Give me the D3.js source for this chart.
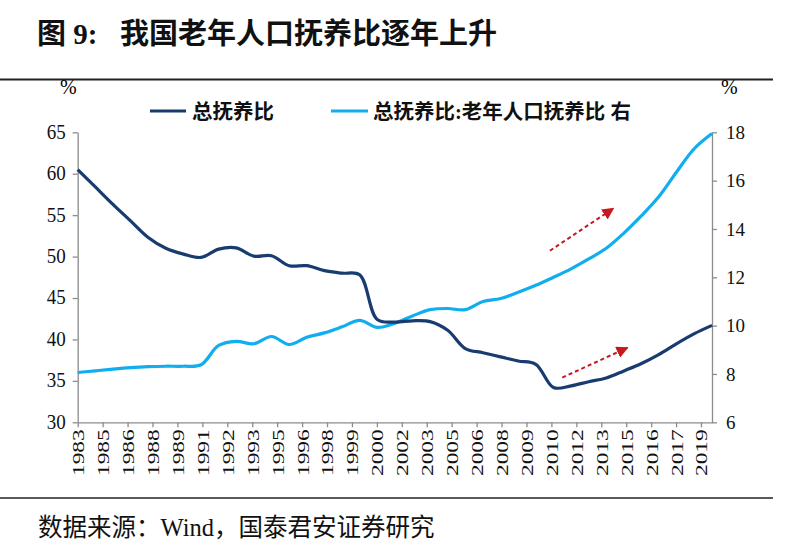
<!DOCTYPE html>
<html>
<head>
<meta charset="utf-8">
<script src="https://cdn.jsdelivr.net/npm/d3@7/dist/d3.min.js"></script>
<style>
  html, body { margin: 0; padding: 0; background: #fff; }
  svg { display: block; }
</style>
</head>
<body>
<svg id="chart" width="800" height="554"></svg>
<script>
// ---------------- DATA ----------------
const years = d3.range(1983, 2020); // 1983 ... 2019
// 总抚养比 (left axis, %)
const totalRatio = [
  60.5, 58.4, 56.3, 54.3, 52.3, 51.0, 50.3, 49.9, 50.9, 51.05,
  50.05, 50.1, 48.9, 48.9, 48.3, 48.0, 47.8, 42.4, 42.1, 42.25,
  42.15, 41.1, 38.9, 38.4, 37.9, 37.4, 37.0, 34.2, 34.4, 34.9,
  35.35, 36.2, 37.1, 38.2, 39.5, 40.7, 41.7
];
// 总抚养比:老年人口抚养比 (right axis, %)
const oldAgeRatio = [
  8.06, 8.13, 8.2, 8.26, 8.3, 8.32, 8.32, 8.38, 9.18, 9.35,
  9.25, 9.55, 9.22, 9.52, 9.7, 9.95, 10.22, 9.93, 10.1, 10.4,
  10.66, 10.71, 10.66, 11.0, 11.12, 11.38, 11.67, 12.0, 12.35, 12.76,
  13.2, 13.83, 14.55, 15.35, 16.37, 17.33, 17.95
];
const xTickLabels = ["1983","1985","1986","1988","1989","1991","1992","1993","1995","1996",
  "1998","1999","2000","2002","2003","2005","2006","2008","2009","2010",
  "2012","2013","2015","2016","2017","2019"];
const leftTicks = [30, 35, 40, 45, 50, 55, 60, 65];
const rightTicks = [6, 8, 10, 12, 14, 16, 18];
const seriesNames = ["总抚养比", "总抚养比:老年人口抚养比 右"];
// trend arrows (start/end in data units): [year, value] ; axis
const arrows = [
  { axis: "right", from: [2009.8, 13.1], to: [2013.4, 14.85] },
  { axis: "left",  from: [2010.5, 35.4], to: [2014.2, 39.0] }
];

// ---------------- LAYOUT ----------------
const plot = { left: 77.7, right: 712, top: 132.3, bottom: 422.3 };
const tickStep = 1.415; // axis label spacing in years
const darkBlue = "#183B70", lightBlue = "#10AEEE", axisGray = "#8C8C8C", arrowRed = "#C8181E";
const serif = "'Liberation Serif','Times New Roman','Noto Sans CJK SC',serif";
const cjk = "'Liberation Serif','Noto Sans CJK SC',sans-serif";

const svg = d3.select("#chart");

const x = d3.scaleLinear().domain([years[0], years[years.length - 1]]).range([plot.left, plot.right]);
const yL = d3.scaleLinear().domain([30, 65]).range([plot.bottom, plot.top]);
const yR = d3.scaleLinear().domain([6, 18]).range([plot.bottom, plot.top]);

// title
const title = svg.append("g").attr("font-family", cjk).attr("font-weight", "bold").attr("font-size", 29).attr("fill", "#111");
title.append("text").attr("x", 37).attr("y", 44).text("图 9:");
title.append("text").attr("x", 120).attr("y", 44).text("我国老年人口抚养比逐年上升");
svg.append("line").attr("x1", 0).attr("x2", 773).attr("y1", 79.5).attr("y2", 79.5)
  .attr("stroke", "#222").attr("stroke-width", 2);

// bottom rule and source
svg.append("line").attr("x1", 0).attr("x2", 773).attr("y1", 498).attr("y2", 498)
  .attr("stroke", "#222").attr("stroke-width", 1.5);
svg.append("text").attr("x", 38).attr("y", 536)
  .attr("font-family", cjk).attr("font-size", 24.5).attr("fill", "#111")
  .text("数据来源：Wind，国泰君安证券研究");

// unit labels
svg.append("text").attr("x", 60).attr("y", 94).attr("font-family", serif).attr("font-size", 20).text("%");
svg.append("text").attr("x", 721).attr("y", 94).attr("font-family", serif).attr("font-size", 20).text("%");

// legend
const legend = svg.append("g").attr("font-family", cjk).attr("font-weight", "bold").attr("font-size", 20.5).attr("fill", "#111");
legend.append("line").attr("x1", 150).attr("x2", 186).attr("y1", 111).attr("y2", 111).attr("stroke", darkBlue).attr("stroke-width", 3);
legend.append("text").attr("x", 192).attr("y", 118.5).text(seriesNames[0]);
legend.append("line").attr("x1", 331).attr("x2", 368).attr("y1", 111).attr("y2", 111).attr("stroke", lightBlue).attr("stroke-width", 3);
legend.append("text").attr("x", 373).attr("y", 118.5).text(seriesNames[1]);

// axes
const axisStyle = g => {
  g.selectAll("path.domain").attr("stroke", axisGray).attr("stroke-width", 1.3);
  g.selectAll(".tick line").attr("stroke", axisGray).attr("stroke-width", 1.3);
  g.selectAll(".tick text").attr("font-family", serif).attr("fill", "#111");
};

svg.append("g").attr("transform", `translate(${plot.left},0)`)
  .call(d3.axisLeft(yL).tickValues(leftTicks).tickSize(5).tickSizeOuter(0).tickPadding(7))
  .call(axisStyle)
  .call(g => g.selectAll(".tick text").attr("font-size", 19).attr("transform", "scale(1,1.12)").attr("dy", "0.28em"));

svg.append("g").attr("transform", `translate(${plot.right},0)`)
  .call(d3.axisRight(yR).tickValues(rightTicks).tickSize(5).tickSizeOuter(0).tickPadding(9))
  .call(axisStyle)
  .call(g => g.selectAll(".tick text").attr("font-size", 19));

const xTickVals = xTickLabels.map((d, i) => years[0] + i * tickStep);
svg.append("g").attr("transform", `translate(0,${plot.bottom})`)
  .call(d3.axisBottom(x).tickValues(xTickVals).tickFormat((d, i) => xTickLabels[i]).tickSize(5).tickSizeOuter(0))
  .call(axisStyle)
  .call(g => g.selectAll(".tick text")
    .attr("font-size", 17)
    .attr("text-anchor", "end")
    .attr("transform", "rotate(-90) scale(1.38,1)")
    .attr("x", -5).attr("y", 0).attr("dy", "0.35em"));

// lines
const lineL = d3.line().x((d, i) => x(years[i])).y(d => yL(d)).curve(d3.curveCatmullRom.alpha(0.5));
const lineR = d3.line().x((d, i) => x(years[i])).y(d => yR(d)).curve(d3.curveCatmullRom.alpha(0.5));

svg.append("path").datum(oldAgeRatio).attr("d", lineR)
  .attr("fill", "none").attr("stroke", lightBlue).attr("stroke-width", 3.2).attr("stroke-linejoin", "round");
svg.append("path").datum(totalRatio).attr("d", lineL)
  .attr("fill", "none").attr("stroke", darkBlue).attr("stroke-width", 3.2).attr("stroke-linejoin", "round");

// arrows
svg.append("defs").append("marker").attr("id", "ah")
  .attr("viewBox", "0 0 10 10").attr("refX", 9).attr("refY", 5)
  .attr("markerWidth", 6).attr("markerHeight", 6).attr("markerUnits", "strokeWidth")
  .attr("orient", "auto")
  .append("path").attr("d", "M0,0 L10,5 L0,10 Z").attr("fill", arrowRed);

arrows.forEach(a => {
  const ys = a.axis === "left" ? yL : yR;
  svg.append("line")
    .attr("x1", x(a.from[0])).attr("y1", ys(a.from[1]))
    .attr("x2", x(a.to[0])).attr("y2", ys(a.to[1]))
    .attr("stroke", arrowRed).attr("stroke-width", 2).attr("stroke-dasharray", "4,3")
    .attr("marker-end", "url(#ah)");
});
</script>
</body>
</html>
